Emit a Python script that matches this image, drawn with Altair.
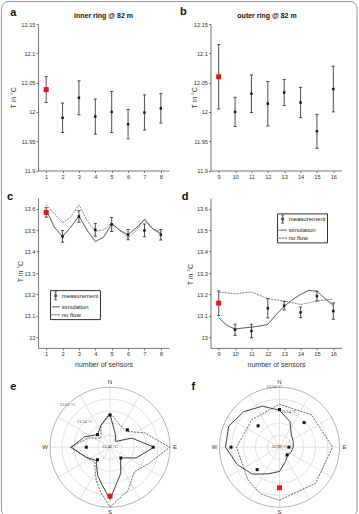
import altair as alt
import numpy as np
import pandas as pd

FONT = "Liberation Sans"
INK = "#222222"
RED = "#e3171f"

# ---- panels a, b: temperature at 82 m, mean and standard deviation per sensor ----
inner_sensors = [1, 2, 3, 4, 5, 6, 7, 8]
inner_82_mean = [12.038, 11.990, 12.024, 11.992, 12.000, 11.979, 11.999, 12.006]
inner_82_err = [0.022, 0.025, 0.029, 0.030, 0.035, 0.025, 0.030, 0.025]

outer_sensors = [9, 10, 11, 12, 13, 14, 15, 16]
outer_82_mean = [12.060, 12.000, 12.031, 12.014, 12.033, 12.016, 11.967, 12.039]
outer_82_err = [0.055, 0.025, 0.032, 0.038, 0.022, 0.026, 0.029, 0.039]

# ---- panels c, d: measurement vs. simulation ----
inner_meas = [13.583, 13.471, 13.564, 13.502, 13.527, 13.479, 13.499, 13.479]
inner_meas_err = [0.022, 0.027, 0.027, 0.030, 0.033, 0.024, 0.030, 0.025]
outer_meas = [13.159, 13.035, 13.029, 13.135, 13.147, 13.116, 13.192, 13.122]
outer_meas_err = [0.057, 0.026, 0.032, 0.045, 0.020, 0.025, 0.023, 0.038]

inner_curve_pos = [1, 1.5, 2, 2.5, 3, 3.5, 4, 4.5, 5, 5.5, 6, 6.5, 7, 7.5, 8]
inner_sim = [13.594, 13.514, 13.470, 13.514, 13.567, 13.499, 13.447, 13.467,
             13.530, 13.499, 13.479, 13.511, 13.549, 13.507, 13.483]
inner_noflow = [13.619, 13.577, 13.535, 13.561, 13.619, 13.545, 13.495, 13.502,
                13.535, 13.499, 13.463, 13.499, 13.553, 13.507, 13.491]

outer_sim_pos = [9, 9.5, 10, 10.5, 11, 11.5, 12, 12.5, 13, 13.5, 14, 14.5, 15, 15.5, 16]
outer_sim = [13.091, 13.055, 13.038, 13.043, 13.047, 13.052, 13.060, 13.105,
             13.144, 13.175, 13.200, 13.219, 13.215, 13.180, 13.149]
outer_noflow_pos = [9, 10, 11, 12, 13, 14, 15, 16]
outer_noflow = [13.211, 13.203, 13.211, 13.180, 13.169, 13.153, 13.169, 13.178]

# stretch between the last and the first sensor, closing each ring
inner_wrap_pos = [8.25, 8.5, 8.75]
inner_wrap_sim = [13.500, 13.525, 13.550]
inner_wrap_noflow = [13.510, 13.540, 13.575]
outer_wrap_pos = [16.5]
outer_wrap_sim = [13.110]
outer_wrap_noflow = [13.200]

# radial axes of the ring plots (e, f)
inner_ring_center = 13.42
inner_ring_levels = [13.46, 13.50, 13.54, 13.58, 13.62]
inner_ring_labelled = [13.62, 13.54, 13.42]
outer_ring_center = 12.99
outer_ring_levels = [13.04, 13.09, 13.14, 13.19, 13.24]
outer_ring_labelled = [13.24, 13.14, 12.99]
compass = ["N", "E", "S", "W"]
compass_deg = [90, 0, 270, 180]

series_dom = ["measurement", "simulation", "no flow"]
panel_titles = ["inner ring @ 82 m", "outer ring @ 82 m"]

# ---- layout ----
PW = 131
H1 = 146.5
H2 = 149.8
H3 = 136
R = 60
ROW_GAP = 27.1
COL_GAP = 41.5


def one_row():
    return pd.DataFrame({"t": ["x"]})


def text_at(txt, x, y, size=11, weight="bold"):
    return alt.Chart(pd.DataFrame({"t": [txt]})).mark_text(
        font=FONT, fontSize=size, fontWeight=weight, color="#111111",
        align="center", baseline="middle",
    ).encode(x=alt.value(x), y=alt.value(y), text="t:N")


def frame_layer():
    # rounded border around the whole figure
    return alt.Chart(one_row()).mark_rect(
        fillOpacity=0, stroke="#9a9a9a", strokeWidth=1, cornerRadius=7,
    ).encode(x=alt.value(-36.5), x2=alt.value(319), y=alt.value(-22.5), y2=alt.value(493))


def error_layers(df, xenc, yscale, yaxis, pt=6, red=25, cap=3.2):
    base = alt.Chart(df)
    ylo = alt.Y("lo:Q", scale=yscale, axis=yaxis)
    yhi = alt.Y("hi:Q", scale=yscale, axis=yaxis)
    yT = alt.Y("T:Q", scale=yscale, axis=yaxis)
    bars = base.mark_rule(color=INK, strokeWidth=0.8).encode(x=xenc, y=ylo, y2="hi:Q")
    lo = base.mark_tick(orient="horizontal", size=cap, thickness=0.8, color=INK, opacity=1).encode(x=xenc, y=ylo)
    hi = base.mark_tick(orient="horizontal", size=cap, thickness=0.8, color=INK, opacity=1).encode(x=xenc, y=yhi)
    pts = base.transform_filter("datum.idx > 0").mark_square(size=pt, color="#111111", opacity=1).encode(x=xenc, y=yT)
    first = base.transform_filter("datum.idx == 0").mark_square(size=red, color=RED, opacity=1).encode(x=xenc, y=yT)
    return [bars, lo, hi, pts, first]


def meas_frame(sensors, mean, err):
    return pd.DataFrame({
        "sensor": sensors, "T": mean,
        "lo": np.subtract(mean, err), "hi": np.add(mean, err),
        "idx": list(range(len(sensors))),
    })


def mean_panel(sensors, mean, err, title, x_dom, title_dx, ytitle_x, let, let_xy, frame=False):
    df = meas_frame(sensors, mean, err)
    xs = alt.Scale(domain=x_dom, nice=False, zero=False)
    ys = alt.Scale(domain=[11.9, 12.15], nice=False, zero=False)
    xax = alt.Axis(values=sensors, format="d", title=None)
    yax = alt.Axis(values=[11.9, 11.95, 12.0, 12.05, 12.1, 12.15], format=".4~g",
                   title="T in °C", titleX=ytitle_x, titleY=H1 / 2,
                   titleBaseline="middle", titleAlign="center")
    xenc = alt.X("sensor:Q", scale=xs, axis=xax)
    layers = error_layers(df, xenc, ys, yax)
    layers.append(text_at(let, *let_xy))
    layers.append(text_at(title, PW / 2 + title_dx, -8, size=7))
    if frame:
        layers.insert(0, frame_layer())
    return alt.layer(*layers).properties(width=PW, height=H1)


MEAS_GLYPH = "M0,-1V1M-0.32,-1H0.32M-0.32,1H0.32M-0.25,-0.25H0.25V0.25H-0.25Z"


def sim_panel(sensors, meas, err, cpos, sim, npos, nf, x_dom, ytitle_x, ytitle_y, leg_xy, let, let_xy):
    df = meas_frame(sensors, meas, err)
    xs = alt.Scale(domain=x_dom, nice=False, zero=False)
    ys = alt.Scale(domain=[12.95, 13.65], nice=False, zero=False)
    xax = alt.Axis(values=sensors, format="d", title="number of sensors",
                   titleY=16.6, titleBaseline="middle")
    yax = alt.Axis(values=[13.0, 13.1, 13.2, 13.3, 13.4, 13.5, 13.6], format=".3~g",
                   title="T in °C", titleX=ytitle_x, titleY=ytitle_y,
                   titleBaseline="middle", titleAlign="center")
    xenc = alt.X("sensor:Q", scale=xs, axis=xax)
    yT = alt.Y("T:Q", scale=ys, axis=yax)

    leg = alt.Legend(title=None, orient="none", legendX=leg_xy[0], legendY=leg_xy[1],
                     strokeColor="#333333", fillColor="white", padding=1.2,
                     rowPadding=0, labelFont=FONT, labelFontSize=6, labelColor="#222222",
                     labelOffset=1.5, symbolSize=64, symbolStrokeWidth=0.9,
                     symbolStrokeColor="#333333", symbolFillColor="#222222")
    dash_scale = alt.Scale(domain=series_dom, range=[[1, 0], [1, 0], [2, 1]])
    shape_scale = alt.Scale(domain=series_dom, range=[MEAS_GLYPH, "stroke", "stroke"])

    sim_df = pd.DataFrame({"sensor": cpos, "T": sim, "series": "simulation"})
    nf_df = pd.DataFrame({"sensor": npos, "T": nf, "series": "no flow"})
    key_df = pd.DataFrame({"sensor": [sensors[0]] * 3, "T": [meas[0]] * 3, "series": series_dom})

    key = alt.Chart(key_df).mark_point(
        opacity=0, filled=False, color="#333333", strokeWidth=0.9,
    ).encode(x=xenc, y=yT, shape=alt.Shape("series:N", scale=shape_scale, legend=leg))
    nf_line = alt.Chart(nf_df).mark_line(color="#707070", strokeWidth=0.9).encode(
        x=xenc, y=yT, strokeDash=alt.StrokeDash("series:N", scale=dash_scale, legend=leg))
    sim_line = alt.Chart(sim_df).mark_line(color="#2a2a2a", strokeWidth=0.9).encode(
        x=xenc, y=yT, strokeDash=alt.StrokeDash("series:N", scale=dash_scale, legend=leg))

    layers = [key, nf_line, sim_line] + error_layers(df, xenc, ys, yax)
    layers.append(text_at(let, *let_xy))
    return alt.layer(*layers).properties(width=PW, height=H2)


def ring_xy(pos, vals, first, center, outer):
    ang = np.deg2rad(270 + (np.asarray(pos, dtype=float) - first) * 45)
    r = R * (np.asarray(vals, dtype=float) - center) / (outer - center)
    return r * np.cos(ang), r * np.sin(ang)


def ring_panel(sensors, meas, center, levels, labelled, label_deg,
               cpos, sim, wpos, wsim, npos, nf, wnf, x_dom, y_dom, let, let_xy):
    first = sensors[0]
    outer = levels[-1]
    xs = alt.Scale(domain=x_dom, nice=False, zero=False)
    ys = alt.Scale(domain=y_dom, nice=False, zero=False)
    X = alt.X("x:Q", scale=xs, axis=None)
    Y = alt.Y("y:Q", scale=ys, axis=None)

    # grid circles
    rows = []
    deg = np.arange(0, 361, 4)
    for lev in levels:
        r = R * (lev - center) / (outer - center)
        for k, d in enumerate(deg):
            rows.append({"ring": lev, "k": k, "x": r * np.cos(np.deg2rad(d)),
                         "y": r * np.sin(np.deg2rad(d)), "outer": lev == outer})
    grid = pd.DataFrame(rows)
    inner_grid = alt.Chart(grid[~grid.outer]).mark_line(color="#cfcfcf", strokeWidth=0.6).encode(
        x=X, y=Y, detail="ring:N", order="k:Q")
    outer_grid = alt.Chart(grid[grid.outer]).mark_line(color="#8f8f8f", strokeWidth=0.7).encode(
        x=X, y=Y, detail="ring:N", order="k:Q")

    sp = np.deg2rad(np.arange(0, 360, 30))
    spokes_df = pd.DataFrame({"x": 0.0, "y": 0.0, "x2": R * np.cos(sp), "y2": R * np.sin(sp)})
    spokes = alt.Chart(spokes_df).mark_rule(color="#cfcfcf", strokeWidth=0.6).encode(
        x=X, y=Y, x2="x2:Q", y2="y2:Q")

    def curve(pos, vals, wp, wv):
        p = list(pos) + list(wp) + [first + 8]
        v = list(vals) + list(wv) + [vals[0]]
        x, y = ring_xy(p, v, first, center, outer)
        return pd.DataFrame({"x": x, "y": y, "k": range(len(p))})

    sim_c = alt.Chart(curve(cpos, sim, wpos, wsim)).mark_line(color="#2a2a2a", strokeWidth=0.9).encode(
        x=X, y=Y, order="k:Q")
    nf_c = alt.Chart(curve(npos, nf, wpos, wnf)).mark_line(
        color="#555555", strokeWidth=0.9, strokeDash=[2, 1.2]).encode(x=X, y=Y, order="k:Q")

    mx, my = ring_xy(sensors, meas, first, center, outer)
    mdf = pd.DataFrame({"x": mx, "y": my, "idx": range(len(sensors))})
    pts = alt.Chart(mdf).transform_filter("datum.idx > 0").mark_square(
        size=9, color="#111111", opacity=1).encode(x=X, y=Y)
    red = alt.Chart(mdf).transform_filter("datum.idx == 0").mark_square(
        size=25, color=RED, opacity=1).encode(x=X, y=Y)

    cd = np.deg2rad(compass_deg)
    cdf = pd.DataFrame({"x": 65 * np.cos(cd), "y": 65 * np.sin(cd), "t": compass})
    comp = alt.Chart(cdf).mark_text(font=FONT, fontSize=6, color="#333333",
                                    align="center", baseline="middle").encode(x=X, y=Y, text="t:N")

    lr = [R * (v - center) / (outer - center) for v in labelled]
    la = np.deg2rad(label_deg)
    ldf = pd.DataFrame({"x": np.array(lr) * np.cos(la), "y": np.array(lr) * np.sin(la),
                        "t": [f"{v:.2f} °C" for v in labelled]})
    labs = alt.Chart(ldf).mark_text(font="Liberation Serif", fontSize=4.4, color="#333333",
                                    align="center", baseline="middle").encode(x=X, y=Y, text="t:N")

    layers = [inner_grid, spokes, outer_grid, nf_c, sim_c, pts, red, comp, labs,
              text_at(let, *let_xy)]
    return alt.layer(*layers).properties(width=PW, height=H3)


pa = mean_panel(inner_sensors, inner_82_mean, inner_82_err, panel_titles[0],
                [0.5, 8.5], 0, -24.7, "a", (-24.7, -11.3), frame=True)
pb = mean_panel(outer_sensors, outer_82_mean, outer_82_err, panel_titles[1],
                [8.5, 16.5], -9, -16.5, "b", (-27.2, -12))
pc = sim_panel(inner_sensors, inner_meas, inner_meas_err, inner_curve_pos, inner_sim,
               inner_curve_pos, inner_noflow, [0.5, 8.5], -18, 73, (12, 92), "c", (-28, -1))
pd_ = sim_panel(outer_sensors, outer_meas, outer_meas_err, outer_sim_pos, outer_sim,
                outer_noflow_pos, outer_noflow, [8.5, 16.5], -20.5, 76, (66.5, 15.3), "d", (-25.5, -1))
pe = ring_panel(inner_sensors, inner_meas, inner_ring_center, inner_ring_levels,
                inner_ring_labelled, [135, 135, 0], inner_curve_pos, inner_sim,
                inner_wrap_pos, inner_wrap_sim, inner_curve_pos, inner_noflow, inner_wrap_noflow,
                [-72, 59], [-64, 72], "e", (-24.7, 12))
pf = ring_panel(outer_sensors, outer_meas, outer_ring_center, outer_ring_levels,
                outer_ring_labelled, [95, 75, 180], outer_sim_pos, outer_sim,
                outer_wrap_pos, outer_wrap_sim, outer_noflow_pos, outer_noflow, outer_wrap_noflow,
                [-69, 62], [-64, 72], "f", (-17.2, 12))

chart = alt.concat(
    pa, pb, pc, pd_, pe, pf, columns=2,
    spacing={"row": ROW_GAP, "column": COL_GAP}, bounds="flush",
).resolve_scale(
    shape="independent", strokeDash="independent",
).resolve_legend(
    shape="independent", strokeDash="independent",
).properties(
    padding={"left": 1, "top": 1, "right": 1, "bottom": -4},
).configure_view(
    strokeWidth=0,
).configure_axis(
    grid=False, labelFont=FONT, labelFontSize=5.7, labelColor="#333333", labelPadding=1,
    domainColor="#555555", domainWidth=0.8, tickColor="#555555", tickSize=2, tickWidth=0.8,
    titleFont=FONT, titleFontSize=7, titleFontWeight="normal", titleColor="#333333",
    labelFlush=False,
)

chart.save("out.html", embed_options={"renderer": "svg", "actions": False})
